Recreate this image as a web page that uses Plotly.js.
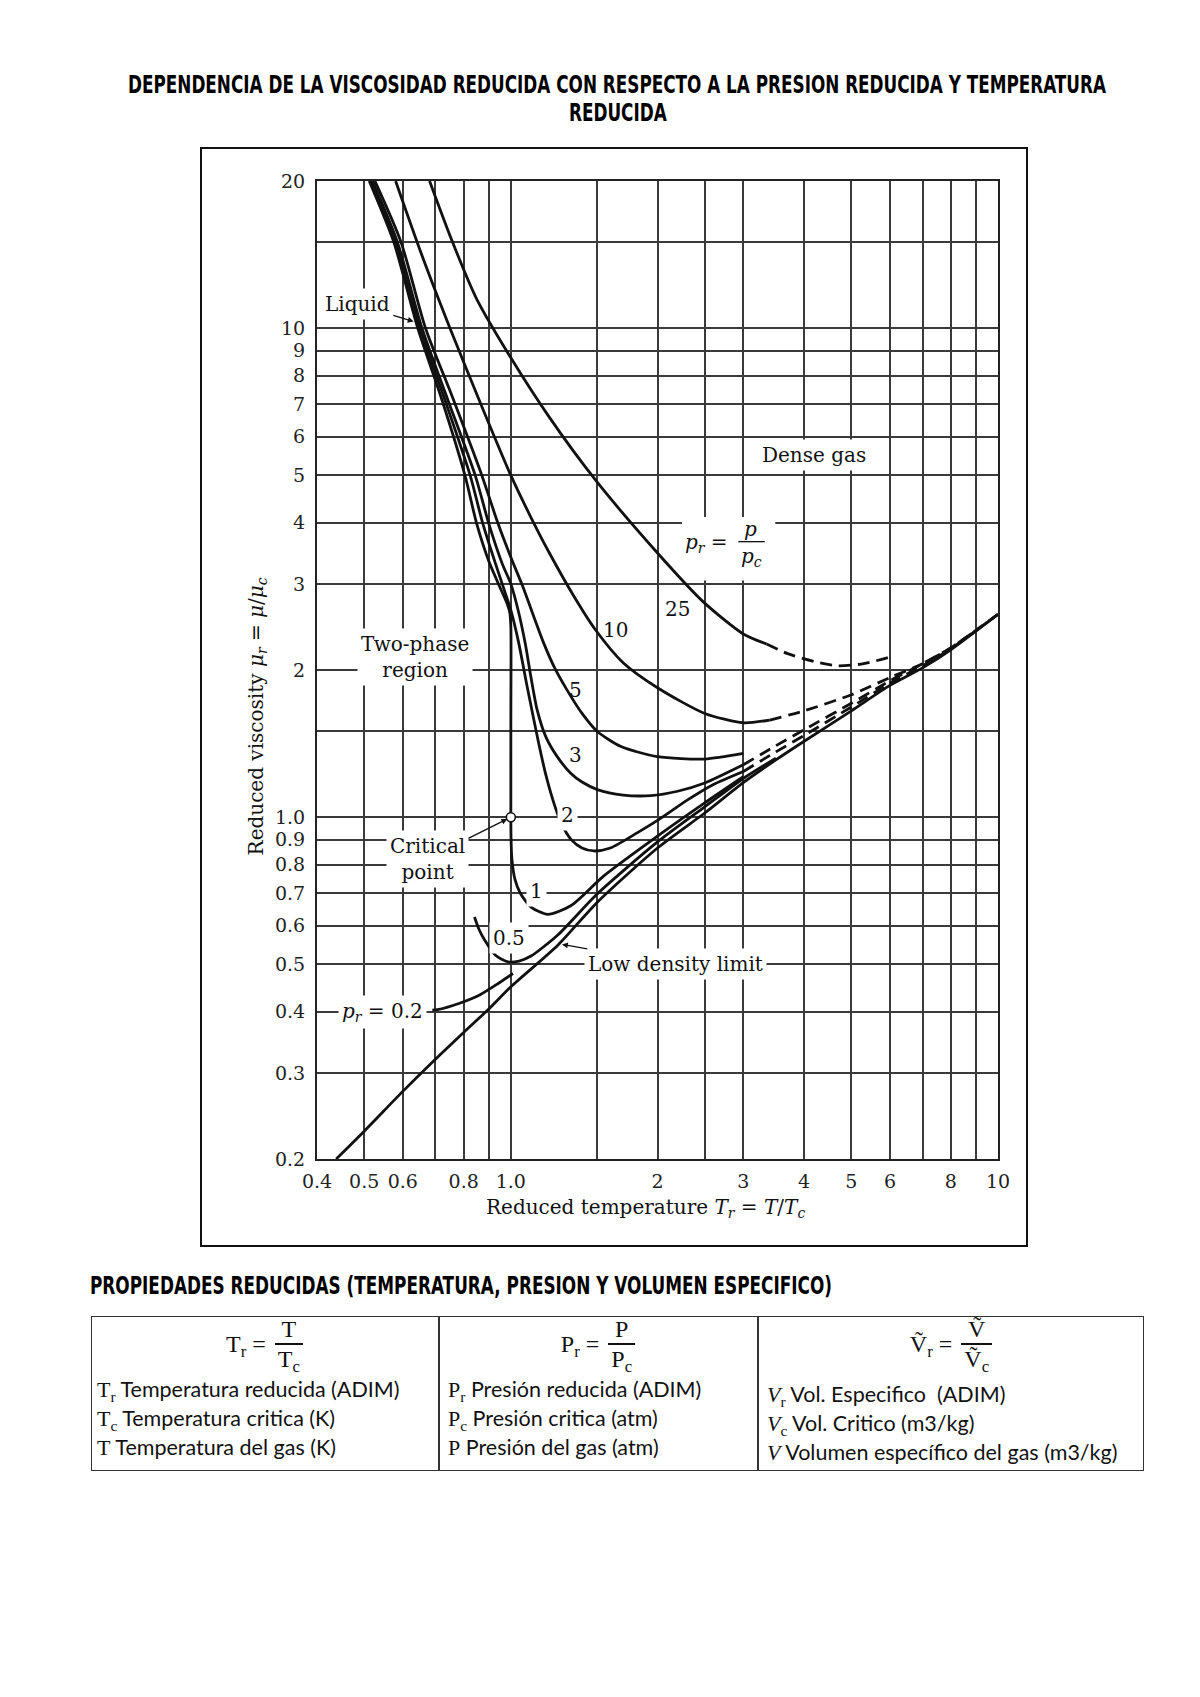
<!DOCTYPE html>
<html>
<head>
<meta charset="utf-8">
<script src="https://cdn.plot.ly/plotly-3.0.1.min.js"></script>
<style>
html,body{margin:0;padding:0;background:#fff;}
body{width:1200px;height:1697px;position:relative;overflow:hidden;}
.hd{position:absolute;font-family:"Liberation Sans Narrow","Arial Narrow","DejaVu Sans Condensed",sans-serif;font-weight:bold;font-size:24px;line-height:28px;white-space:nowrap;color:#000;transform-origin:0 50%;}
#frame{position:absolute;left:200px;top:147px;width:828px;height:1100px;border:2px solid #111;box-sizing:border-box;z-index:5;pointer-events:none;}
#chart{position:absolute;left:201px;top:147px;width:826px;height:1099px;}
.box{position:absolute;border:1.5px solid #333;box-sizing:border-box;}
.vl{position:absolute;width:1.5px;background:#333;}
.frm{position:absolute;display:flex;justify-content:center;align-items:center;font-family:"Liberation Serif","DejaVu Serif",serif;font-size:24px;color:#111;}
.frm .lhs{margin-right:9px;white-space:nowrap;}
.fr{display:inline-flex;flex-direction:column;align-items:center;}
.fr .num,.fr .den{line-height:26px;padding:0 3px;}
.fr .bar{height:1.4px;background:#111;align-self:stretch;margin:1px 0;}
sub{font-size:70%;vertical-align:-0.3em;line-height:0;}
.tx{position:absolute;font-family:Lato,"Open Sans",sans-serif;font-size:21.5px;line-height:24px;color:#111;white-space:pre;}
.tx .s{font-family:"Liberation Serif","DejaVu Serif",serif;font-size:22px;}
</style>
</head>
<body>
<div id="t1" class="hd" style="top:71px;">DEPENDENCIA DE LA VISCOSIDAD REDUCIDA CON RESPECTO A LA PRESION REDUCIDA Y TEMPERATURA</div>
<div id="t2" class="hd" style="top:99px;">REDUCIDA</div>

<div id="chart"></div>
<div id="frame"></div>

<div id="h2" class="hd" style="top:1272px;">PROPIEDADES REDUCIDAS (TEMPERATURA, PRESION Y VOLUMEN ESPECIFICO)</div>

<div class="box" style="left:91px;top:1316px;width:1053px;height:155px;"></div>
<div class="vl" style="left:438px;top:1316px;height:155px;"></div>
<div class="vl" style="left:757px;top:1316px;height:155px;"></div>

<div class="frm" style="left:91px;width:347px;top:1314px;height:60px;">
  <span class="lhs">T<sub>r</sub> =</span>
  <span class="fr"><span class="num">T</span><span class="bar"></span><span class="den">T<sub>c</sub></span></span>
</div>
<div class="frm" style="left:439px;width:318px;top:1314px;height:60px;">
  <span class="lhs">P<sub>r</sub> =</span>
  <span class="fr"><span class="num">P</span><span class="bar"></span><span class="den">P<sub>c</sub></span></span>
</div>
<div class="frm" style="left:758px;width:386px;top:1314px;height:60px;">
  <span class="lhs">Ṽ<sub>r</sub> =</span>
  <span class="fr"><span class="num">Ṽ</span><span class="bar"></span><span class="den">Ṽ<sub>c</sub></span></span>
</div>

<div class="tx" style="left:97px;top:1377px;"><span class="s">T<sub>r</sub></span> Temperatura reducida (ADIM)</div>
<div class="tx" style="left:97px;top:1406px;"><span class="s">T<sub>c</sub></span> Temperatura critica (K)</div>
<div class="tx" style="left:97px;top:1435px;"><span class="s">T</span> Temperatura del gas (K)</div>

<div class="tx" style="left:448px;top:1377px;"><span class="s">P<sub>r</sub></span> Presión reducida (ADIM)</div>
<div class="tx" style="left:448px;top:1406px;"><span class="s">P<sub>c</sub></span> Presión critica (atm)</div>
<div class="tx" style="left:448px;top:1435px;"><span class="s">P</span> Presión del gas (atm)</div>

<div class="tx" style="left:767px;top:1382px;"><span class="s"><i>V</i><sub>r</sub></span> Vol. Especifico  (ADIM)</div>
<div class="tx" style="left:767px;top:1411px;"><span class="s"><i>V</i><sub>c</sub></span> Vol. Critico (m3/kg)</div>
<div class="tx" style="left:767px;top:1440px;"><span class="s"><i>V</i></span> Volumen específico del gas (m3/kg)</div>

<script>
// ---------- axis ticks / grid ----------
const xTickVals = [0.4,0.5,0.6,0.8,1.0,2,3,4,5,6,8,10];
const xTickText = ['0.4','0.5','0.6','0.8','1.0','2','3','4','5','6','8','10'];
const xMinorVals = [0.7,0.9,1.5,2.5,7,9];
const yTickVals = [0.2,0.3,0.4,0.5,0.6,0.7,0.8,0.9,1.0,2,3,4,5,6,7,8,9,10,20];
const yTickText = ['0.2','0.3','0.4','0.5','0.6','0.7','0.8','0.9','1.0','2','3','4','5','6','7','8','9','10','20'];
const yMinorVals = [1.5,15];

// ---------- curves (Tr, mu_r) ----------
const ldTr = [0.438,0.5,0.6,0.7,0.8,0.9,1.0,1.25,1.5,2.0,2.5,3.0,3.5,4.0,5.0,6.0,7.0,8.0,10];
const ldMu = [0.2,0.228,0.275,0.32,0.363,0.405,0.45,0.548,0.668,0.865,1.02,1.177,1.31,1.43,1.65,1.86,2.02,2.2,2.6];

const pr02Tr = [0.69,0.707,0.782,0.863,0.942,1.01];
const pr02Mu = [0.403,0.404,0.416,0.433,0.457,0.479];

const pr05Tr = [0.842,0.86,0.884,0.93,0.987,1.04,1.1,1.25,1.5,2.0,2.5,3.0,3.5];
const pr05Mu = [0.625,0.59,0.56,0.522,0.506,0.508,0.52,0.575,0.695,0.89,1.05,1.2,1.32];

const pr1Tr = [0.512,0.575,0.644,0.72,0.805,0.85,0.9,0.95,0.98,0.995,1.0,1.0,1.0,1.001,1.005,1.02,1.045,1.1,1.19,1.33,1.55,2.0,2.5,3.0];
const pr1Mu = [20,15,10,7.2,5.0,4.0,3.35,2.95,2.75,2.62,2.45,1.6,1.0,0.9,0.82,0.745,0.70,0.655,0.633,0.66,0.758,0.915,1.07,1.21];

const pr2Tr = [0.516,0.58,0.65,0.73,0.825,0.875,0.93,0.96,1.0,1.037,1.08,1.14,1.18,1.225,1.27,1.33,1.4,1.48,1.6,1.82,2.0,2.31,2.6,3.0];
const pr2Mu = [20,15,10,7.2,5.0,4.0,3.3,3.0,2.65,2.28,1.85,1.42,1.22,1.07,0.97,0.9,0.865,0.853,0.865,0.93,0.985,1.086,1.165,1.24];
const pr2DashTr = [3.0,3.5,4.0,5.0,6.0,7.0,8.0,10];
const pr2DashMu = [1.24,1.36,1.47,1.68,1.88,2.04,2.21,2.6];

const pr3Tr = [0.52,0.585,0.657,0.74,0.845,0.9,0.96,1.0,1.035,1.07,1.1,1.132,1.18,1.245,1.327,1.4,1.505,1.7,1.94,2.2,2.5,3.0];
const pr3Mu = [20,15,10,7.2,5.0,4.0,3.3,3.0,2.65,2.27,1.93,1.66,1.46,1.33,1.23,1.18,1.139,1.11,1.107,1.13,1.175,1.28];
const pr3DashTr = [3.0,3.5,4.0,5.0,6.0,7.0,8.0,10];
const pr3DashMu = [1.28,1.40,1.51,1.71,1.90,2.06,2.22,2.6];

const pr5Tr = [0.526,0.595,0.668,0.76,0.872,0.94,1.0,1.06,1.11,1.168,1.23,1.30,1.4,1.505,1.683,2.0,2.5,3.0];
const pr5Mu = [20,15,10,7.2,5.0,4.0,3.4,2.95,2.6,2.27,2.02,1.83,1.63,1.497,1.395,1.33,1.315,1.35];

const pr10Tr = [0.58,0.655,0.75,0.87,1.0,1.1,1.196,1.35,1.49,1.7,2.0,2.5,3.0,3.4];
const pr10Mu = [20,14.2,10,6.95,5.0,4.1,3.49,2.82,2.42,2.07,1.84,1.63,1.56,1.58];
const pr10DashTr = [3.4,4.0,5.0,6.0,7.0,8.0,10];
const pr10DashMu = [1.58,1.65,1.78,1.93,2.06,2.22,2.6];

const pr25Tr = [0.681,0.755,0.85,1.0,1.2,1.49,2.0,2.48,3.0,3.35];
const pr25Mu = [20,15.2,11.5,8.7,6.57,4.9,3.47,2.76,2.37,2.26];
const pr25DashTr = [3.35,3.7,4.2,4.68,5.3,6.04];
const pr25DashMu = [2.26,2.16,2.08,2.04,2.06,2.13];

const critTr = [1.0];
const critMu = [1.0];

// ---------- text labels ----------
const labelText = ['Dense gas','Two-phase<br>region','<i>p<sub>r</sub></i> = 0.2','<i>p<sub>r</sub></i> =','<i>p</i>','<i>p<sub>c</sub></i>','25','10','5','3','2','1','0.5'];
const labelTr   = [4.19,0.637,0.544,2.52,3.11,3.12,2.2,1.64,1.36,1.36,1.305,1.13,0.99];
const labelMu   = [5.5,2.13,0.40,3.64,3.88,3.40,2.67,2.42,1.82,1.34,1.01,0.707,0.567];
const labelBg   = [1,1,1,0,0,0,0,0,0,0,1,1,1];

// labels with a pointer arrow: text position and arrow target
const ptrText = ['Liquid','Critical<br>point','Low density limit'];
const ptrTr   = [0.484,0.674,2.18];
const ptrMu   = [11.2,0.822,0.50];
const ptrToTr = [0.643,1.0,1.25];
const ptrToMu = [10.26,1.0,0.551];

const L = Math.log10;
const ink = '#111';
function line(x, y, dash) {
  return {x: x, y: y, type: 'scatter', mode: 'lines', hoverinfo: 'skip', showlegend: false,
    line: {color: ink, width: 2.8, shape: 'spline', smoothing: 0.7, dash: dash || 'solid'}};
}
const dsh = '12px,7px';
const traces = [
  line(ldTr, ldMu), line(pr02Tr, pr02Mu), line(pr05Tr, pr05Mu), line(pr1Tr, pr1Mu),
  line(pr2Tr, pr2Mu), line(pr2DashTr, pr2DashMu, dsh),
  line(pr3Tr, pr3Mu), line(pr3DashTr, pr3DashMu, dsh),
  line(pr5Tr, pr5Mu),
  line(pr10Tr, pr10Mu), line(pr10DashTr, pr10DashMu, dsh),
  line(pr25Tr, pr25Mu), line(pr25DashTr, pr25DashMu, dsh),
  {x: critTr, y: critMu, type: 'scatter', mode: 'markers', hoverinfo: 'skip', showlegend: false,
   marker: {symbol: 'circle', size: 9, color: '#fff', line: {color: ink, width: 1.6}}}
];

const serif = '"DejaVu Serif", "Liberation Serif", serif';
const annotations = labelText.map((t, i) => ({
  x: L(labelTr[i]), y: L(labelMu[i]), xref: 'x', yref: 'y', text: t, showarrow: false,
  font: {family: serif, size: 20, color: ink}, align: 'center',
  bgcolor: labelBg[i] ? '#fff' : 'rgba(0,0,0,0)', borderpad: 3
}));
ptrText.forEach((t, i) => annotations.push({
  x: L(ptrToTr[i]), y: L(ptrToMu[i]), xref: 'x', yref: 'y',
  ax: L(ptrTr[i]), ay: L(ptrMu[i]), axref: 'x', ayref: 'y',
  text: t, showarrow: true, arrowhead: 2, arrowsize: 0.9, arrowwidth: 1.3, arrowcolor: ink, standoff: 4,
  font: {family: serif, size: 20, color: ink}, align: 'center', bgcolor: '#fff', borderpad: 3
}));
// axis titles
annotations.push({x: -0.088, y: 0.4526, xref: 'paper', yref: 'paper', textangle: -90, showarrow: false,
  text: 'Reduced viscosity <i>μ<sub>r</sub></i> = <i>μ</i>/<i>μ<sub>c</sub></i>',
  font: {family: serif, size: 20, color: ink}, xanchor: 'center', yanchor: 'middle'});
annotations.push({x: 0.483, y: -0.05, xref: 'paper', yref: 'paper', showarrow: false,
  text: 'Reduced temperature <i>T<sub>r</sub></i> = <i>T</i>/<i>T<sub>c</sub></i>',
  font: {family: serif, size: 20, color: ink}, xanchor: 'center', yanchor: 'middle'});

// shapes (Plotly v3: data values on log axes)
const shapes = [
  {type: 'rect', layer: 'between', xref: 'x', yref: 'y', x0: 2.245, x1: 3.49, y0: 3.05, y1: 4.11,
   fillcolor: '#fff', line: {width: 0}},
  {type: 'line', layer: 'above', xref: 'x', yref: 'y', x0: 2.93, x1: 3.32, y0: 3.66, y1: 3.66,
   line: {color: ink, width: 1.3}}
];

const gridCol = '#3a3a3a';
const axisCommon = {
  type: 'log', tickmode: 'array', showgrid: true, gridcolor: gridCol, gridwidth: 2,
  showline: true, mirror: true, linecolor: '#222', linewidth: 2, ticks: '', zeroline: false,
  tickfont: {family: serif, size: 19, color: '#222'}, fixedrange: true
};
const layout = {
  width: 826, height: 1099,
  margin: {l: 116, r: 29, t: 34, b: 87},
  paper_bgcolor: '#fff', plot_bgcolor: '#fff',
  font: {family: serif, color: ink},
  showlegend: false,
  xaxis: Object.assign({}, axisCommon, {range: [L(0.4), L(10)], tickvals: xTickVals, ticktext: xTickText, ticklabelstandoff: 4,
    minor: {tickmode: 'array', tickvals: xMinorVals, showgrid: true, gridcolor: gridCol, gridwidth: 2, ticks: ''}}),
  yaxis: Object.assign({}, axisCommon, {range: [L(0.2), L(20)], tickvals: yTickVals, ticktext: yTickText, ticklabelstandoff: 6,
    minor: {tickmode: 'array', tickvals: yMinorVals, showgrid: true, gridcolor: gridCol, gridwidth: 2, ticks: ''}}),
  annotations: annotations,
  shapes: shapes
};
Plotly.newPlot('chart', traces, layout, {staticPlot: true, displayModeBar: false});

// ---------- fit headings to their measured widths ----------
function fit(id, left, width) {
  const el = document.getElementById(id);
  const w = el.getBoundingClientRect().width;
  el.style.left = left + 'px';
  el.style.transform = 'scaleX(' + (width / w) + ')';
}
function center(id, cx, sx) {
  const el = document.getElementById(id);
  const w = el.getBoundingClientRect().width * sx;
  el.style.left = (cx - w / 2) + 'px';
  el.style.transform = 'scaleX(' + sx + ')';
}
const t1w = document.getElementById('t1').getBoundingClientRect().width;
fit('t1', 128, 978);
center('t2', 618, 978 / t1w);
fit('h2', 90, 742);
</script>
</body>
</html>
